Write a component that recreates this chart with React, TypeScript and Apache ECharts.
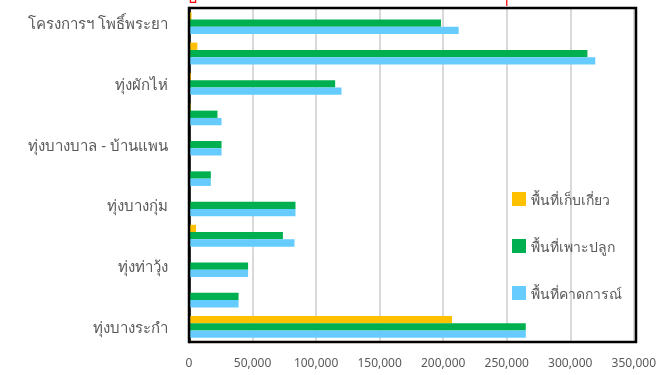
import React, { useEffect, useRef } from "react";
import * as echarts from "echarts";

const categories = [
  "ทุ่งบางระกำ",
  "ทุ่งเชียงราก",
  "ทุ่งท่าวุ้ง",
  "ทุ่งบางกุ้ง",
  "ทุ่งบางกุ่ม",
  "ทุ่งป่าโมก",
  "ทุ่งบางบาล - บ้านแพน",
  "ทุ่งเจ้าเจ็ด",
  "ทุ่งผักไห่",
  "ทุ่งรังสิตใต้",
  "โครงการฯ โพธิ์พระยา",
];

const harvested = [207000, 0, 0, 5500, 0, 0, 0, 1200, 1500, 6600, 2000];
const planted = [265000, 39000, 46500, 73900, 83800, 17200, 25600, 22400, 115000, 313500, 198300];
const forecast = [265000, 39000, 46500, 83000, 83800, 17200, 25600, 25600, 120000, 319700, 212200];

const seriesNames = ["พื้นที่เก็บเกี่ยว", "พื้นที่เพาะปลูก", "พื้นที่คาดการณ์"];
const xTicks = { min: 0, max: 350000, interval: 50000 };

const FONT = "'Noto Sans', 'Open Sans', sans-serif";

export default function App() {
  const ref = useRef<HTMLDivElement>(null);
  useEffect(() => {
    if (!ref.current) return;
    const chart = echarts.init(ref.current, undefined, { renderer: "svg" });
    chart.setOption({
      animation: false,
      textStyle: { fontFamily: FONT },
      grid: {
        left: 189,
        right: 23,
        top: 8,
        bottom: 33,
      },
      graphic: [
        {
          type: "rect",
          z: 100,
          silent: true,
          shape: { x: 189, y: 8, width: 447, height: 334 },
          style: { fill: "none", stroke: "#000", lineWidth: 2.5 },
        },
        {
          type: "text",
          x: 187,
          y: -11,
          silent: true,
          style: { text: "ป", fill: "#FF0000", fontSize: 16, fontFamily: FONT },
        },
        {
          type: "text",
          x: 500,
          y: -11,
          silent: true,
          style: { text: "ๆ", fill: "#FF0000", fontSize: 16, fontFamily: FONT },
        },
      ],
      legend: {
        orient: "vertical",
        left: 507,
        top: 187,
        itemWidth: 14,
        itemHeight: 14,
        itemGap: 33,
        icon: "rect",
        textStyle: { color: "#595959", fontSize: 14, fontFamily: FONT, lineHeight: 14 },
        data: seriesNames,
      },
      xAxis: {
        type: "value",
        min: xTicks.min,
        max: xTicks.max,
        interval: xTicks.interval,
        axisLine: { show: false },
        axisTick: { show: false },
        splitLine: { show: true, lineStyle: { color: "#D9D9D9", width: 2 } },
        axisLabel: {
          color: "#595959",
          fontSize: 12,
          margin: 14,
          formatter: (v: number) => v.toLocaleString("en-US"),
        },
      },
      yAxis: {
        type: "category",
        data: categories,
        axisLine: { show: true, lineStyle: { color: "#000", width: 2.5 } },
        axisTick: { show: false },
        axisLabel: { interval: 1, color: "#595959", fontSize: 15, margin: 21 },
      },
      series: [
        { name: seriesNames[0], type: "bar", data: harvested, itemStyle: { color: "#FFC000" }, barGap: "0%", barCategoryGap: "28%" },
        { name: seriesNames[1], type: "bar", data: planted, itemStyle: { color: "#00B050" }, barGap: "0%", barCategoryGap: "28%" },
        { name: seriesNames[2], type: "bar", data: forecast, itemStyle: { color: "#66CCFF" }, barGap: "0%", barCategoryGap: "28%" },
      ],
    });
    return () => chart.dispose();
  }, []);
  return <div ref={ref} style={{ width: 659, height: 375, position: "fixed", left: 0, top: 0 }} />;
}
